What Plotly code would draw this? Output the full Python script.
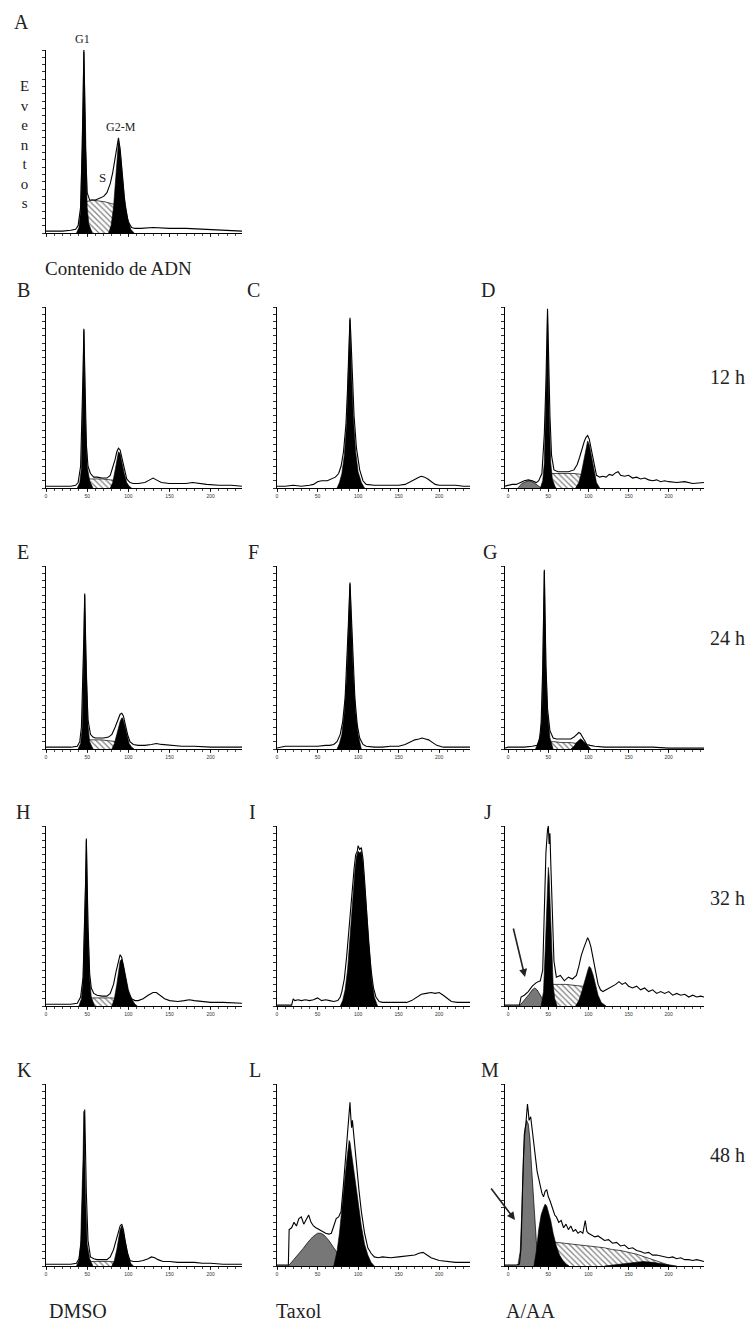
import plotly.graph_objects as go

W, H = 753, 1333

# ---------------- data (channel, % of panel max) ----------------
A_out_x = [0, 10, 20, 30, 36, 39, 42, 44, 45, 46, 47, 48, 50, 53, 56, 60, 65, 70, 74, 78, 81, 84, 86, 88, 90, 93, 96, 100, 104, 108, 115, 130, 150, 170, 190, 210, 225, 238]
A_out_y = [1, 1, 1, 1.5, 2, 4, 14, 46, 74, 100, 74, 46, 22, 18, 18, 18, 19, 20, 22, 27, 33, 42, 48, 52, 46, 30, 15, 6, 3, 2.5, 2.5, 3, 2.5, 2.5, 2, 1.5, 1.5, 1]
A_g1_x = [37, 40, 42, 44, 45, 46, 47, 48, 50, 52, 56]
A_g1_y = [0, 3, 12, 44, 72, 99, 72, 44, 14, 5, 0]
A_s_x = [48, 56, 64, 72, 80, 88]
A_s_y = [17, 18, 17.5, 17, 16, 15]
A_g2_x = [76, 79, 82, 84, 86, 88, 90, 92, 95, 99, 103, 107]
A_g2_y = [0, 4, 14, 28, 42, 50, 45, 34, 20, 8, 2, 0]
A_tri = [46, 88]

B_out_x = [0, 10, 20, 30, 36, 39, 42, 44, 45, 46, 47, 48, 49, 51, 54, 58, 62, 68, 74, 78, 81, 84, 86, 88, 90, 92, 95, 98, 102, 106, 112, 120, 126, 130, 134, 140, 150, 160, 170, 178, 185, 195, 210, 225, 238]
B_out_y = [1, 1, 1, 1, 1.5, 3, 12, 40, 64, 88, 64, 40, 24, 12, 8, 6, 6, 5.5, 5.5, 7, 11, 16, 20, 22, 21, 17, 10, 5, 3, 2.5, 2.5, 3, 4.5, 5.5, 4.5, 3, 2.5, 2.5, 2.5, 3, 2.5, 2, 1.5, 1.5, 1]
B_g1_x = [38, 41, 43, 44, 45, 46, 47, 48, 50, 53, 57]
B_g1_y = [0, 3, 11, 38, 62, 87, 62, 38, 12, 4, 0]
B_s_x = [48, 58, 68, 78, 88]
B_s_y = [5, 5, 5, 4.5, 4]
B_g2_x = [78, 81, 84, 86, 88, 90, 92, 95, 98, 101, 104]
B_g2_y = [0, 3, 10, 16, 20, 19, 14, 8, 3, 1, 0]
B_tri = [46, 88, 129]

C_out_x = [0, 10, 20, 30, 40, 45, 50, 55, 62, 68, 72, 76, 79, 82, 85, 87, 89, 90, 91, 93, 95, 98, 102, 106, 110, 120, 130, 140, 150, 158, 164, 170, 175, 178, 182, 186, 190, 195, 200, 210, 220, 230, 238]
C_out_y = [1, 1, 1.5, 1, 1.5, 2, 3.5, 4, 4, 5, 6, 8, 12, 20, 35, 55, 80, 94, 85, 60, 40, 22, 10, 4, 2, 1.5, 1.5, 1.5, 1.5, 2, 3.5, 5, 6, 6.5, 6, 5, 3.5, 2, 1.5, 1.5, 1.5, 1, 1]
C_g1_x = [74, 77, 80, 83, 86, 88, 90, 92, 94, 97, 100, 104, 108]
C_g1_y = [0, 3, 8, 18, 36, 62, 93, 62, 40, 20, 9, 3, 0]
C_tri = [90, 172]

D_out_x = [-4, 0, 5, 10, 15, 20, 25, 30, 35, 38, 42, 45, 47, 48, 49, 50, 51, 52, 54, 57, 62, 68, 75, 82, 86, 89, 92, 95, 97, 99, 101, 104, 107, 110, 114, 118, 122, 126, 130, 134, 137, 140, 145, 150, 155, 160, 165, 170, 175, 180, 185, 190, 195, 200, 210, 220, 230, 244]
D_out_y = [1, 1.5, 2, 2, 3, 4, 4.5, 4, 3, 4, 8, 30, 58, 80, 99, 80, 58, 40, 18, 10, 9, 9, 9, 10, 13, 17, 22, 26, 28, 29, 27, 20, 12, 7, 6, 6.5, 6, 7.5, 7, 8.5, 9, 7, 6.5, 7, 5.5, 6, 5, 5.5, 4.5, 4, 4.5, 3.5, 4, 3.5, 3, 3.5, 2.5, 3]
D_apo_x = [12, 17, 22, 27, 32, 37, 41]
D_apo_y = [0, 2.5, 3.5, 4, 3, 1.5, 0]
D_g1_x = [40, 43, 45, 47, 48, 49, 50, 51, 53, 55, 59]
D_g1_y = [0, 4, 14, 42, 68, 97, 68, 42, 14, 5, 0]
D_s_x = [52, 62, 72, 82, 92, 100]
D_s_y = [8, 8, 8, 8, 7.5, 7]
D_g2_x = [84, 88, 91, 94, 97, 99, 101, 104, 107, 110, 114]
D_g2_y = [0, 3, 8, 15, 22, 26, 24, 17, 9, 3, 0]
D_tri = [49, 98, 181]

E_out_x = [0, 10, 20, 30, 38, 41, 43, 45, 46, 47, 48, 49, 51, 54, 57, 60, 65, 70, 76, 80, 84, 87, 90, 92, 94, 96, 99, 102, 106, 112, 120, 128, 134, 140, 150, 165, 180, 200, 220, 238]
E_out_y = [1, 1, 1, 1, 1.5, 4, 12, 40, 62, 85, 62, 40, 16, 8, 6.5, 6, 6, 6, 6.5, 8, 12, 16, 19, 19.5, 18, 14, 8, 4, 2.5, 2, 2, 2.5, 3, 2.5, 2, 1.5, 1.5, 1, 1, 1]
E_g1_x = [39, 42, 44, 45, 46, 47, 48, 49, 51, 53, 57]
E_g1_y = [0, 3, 12, 38, 60, 84, 60, 38, 13, 4, 0]
E_s_x = [49, 58, 67, 76, 86]
E_s_y = [5, 5, 5, 4.5, 4]
E_g2_x = [80, 83, 86, 88, 90, 92, 93, 95, 98, 101, 104, 107]
E_g2_y = [0, 3, 8, 12, 15, 17, 17, 14, 8, 3, 1, 0]
E_tri = [47, 92]

F_out_x = [0, 5, 10, 20, 30, 40, 50, 60, 65, 70, 74, 78, 81, 84, 86, 88, 90, 92, 94, 96, 99, 102, 106, 110, 120, 130, 140, 150, 158, 165, 170, 175, 179, 183, 187, 192, 197, 205, 215, 225, 238]
F_out_y = [0.5, 1, 1.5, 1.5, 1.5, 1.5, 1.5, 2, 2, 2.5, 4, 8, 15, 28, 45, 68, 91, 70, 46, 28, 13, 6, 2.5, 1.5, 1, 1, 1.5, 1.5, 2.5, 4, 5, 5.5, 6, 5.5, 5, 3.5, 2, 1, 1, 1, 1]
F_g1_x = [74, 77, 80, 83, 86, 88, 90, 92, 94, 97, 100, 104]
F_g1_y = [0, 3, 8, 20, 40, 62, 90, 65, 42, 20, 8, 0]
F_tri = [90, 173]

G_out_x = [-4, 0, 10, 20, 30, 36, 39, 41, 43, 44, 45, 46, 47, 49, 52, 56, 60, 66, 72, 78, 82, 85, 88, 90, 92, 95, 98, 102, 108, 120, 140, 160, 180, 200, 220, 244]
G_out_y = [0.5, 1, 1, 1, 1.5, 2, 5, 14, 44, 72, 98, 72, 46, 22, 10, 6, 5.5, 5.5, 5.5, 5.5, 6.5, 8, 9, 8.5, 7, 4, 2.5, 2, 1.5, 1, 1, 1, 1, 0.5, 0.5, 0.5]
G_g1_x = [34, 37, 40, 42, 43, 44, 45, 46, 47, 49, 52, 56]
G_g1_y = [0, 3, 8, 18, 42, 70, 97, 70, 44, 20, 6, 0]
G_s_x = [47, 57, 67, 77, 87, 96]
G_s_y = [4, 4, 3.5, 3.5, 3, 2]
G_g2_x = [78, 82, 85, 88, 90, 92, 95, 99, 103]
G_g2_y = [0, 1.5, 3.5, 5, 5.5, 5, 3.5, 1.5, 0]
G_tri = [45]

H_out_x = [0, 10, 20, 30, 38, 42, 45, 47, 48, 49, 50, 51, 53, 55, 58, 62, 68, 74, 78, 82, 85, 88, 90, 92, 94, 97, 100, 104, 108, 112, 118, 124, 130, 134, 138, 144, 150, 160, 168, 174, 180, 190, 200, 215, 238]
H_out_y = [1, 1, 1, 1, 1.5, 5, 16, 45, 68, 93, 68, 45, 18, 10, 7, 6, 5.5, 5.5, 7, 12, 19, 25, 28.5, 27, 22, 14, 7, 4, 3, 3, 4, 6, 7.5, 7.5, 6, 4, 3, 2.5, 3, 3.5, 3, 2.5, 2, 2, 1.5]
H_g1_x = [40, 43, 45, 47, 48, 49, 50, 51, 53, 55, 59]
H_g1_y = [0, 4, 14, 42, 66, 92, 66, 42, 15, 5, 0]
H_s_x = [51, 60, 70, 80, 88]
H_s_y = [4.5, 4.5, 4.5, 4.5, 4]
H_g2_x = [80, 83, 86, 88, 90, 92, 94, 97, 100, 104, 108, 111]
H_g2_y = [0, 4, 12, 20, 25, 26, 23, 16, 9, 4, 1, 0]
H_tri = [49, 92, 134]

I_out_x = [0, 10, 18, 20, 22, 26, 30, 35, 40, 45, 50, 55, 60, 65, 70, 75, 78, 80, 83, 86, 89, 92, 95, 97, 99, 100, 102, 104, 106, 108, 110, 113, 116, 119, 122, 126, 130, 140, 150, 160, 166, 172, 178, 184, 190, 195, 200, 205, 210, 215, 222, 230, 238]
I_out_y = [0.5, 0.5, 0.5, 4, 3, 3.5, 3, 3.5, 3, 3.5, 4.5, 3, 3.5, 3, 2.5, 3, 5, 8, 15, 28, 45, 62, 76, 84, 86, 89, 87, 88, 82, 70, 55, 35, 20, 10, 5, 2.5, 2, 2, 2, 2, 3, 5, 6.5, 7, 7.5, 7, 7.5, 6, 4, 2.5, 2, 2, 2]
I_g1_x = [78, 81, 84, 87, 90, 93, 96, 98, 100, 102, 104, 106, 108, 111, 114, 117, 120, 124]
I_g1_y = [0, 3, 9, 20, 38, 58, 75, 83, 86, 85, 86, 80, 68, 48, 28, 14, 5, 0]
I_tri = [50, 98, 184, 197]

J_out_x = [-4, 0, 5, 10, 14, 16, 20, 25, 30, 35, 40, 43, 45, 47, 49, 50, 51, 52, 53, 55, 57, 60, 65, 70, 75, 80, 85, 88, 91, 94, 97, 99, 101, 103, 106, 109, 112, 115, 118, 122, 126, 130, 134, 138, 142, 146, 150, 155, 160, 165, 170, 175, 180, 185, 190, 195, 200, 205, 210, 215, 220, 225, 230, 235, 240, 244]
J_out_y = [0.5, 0.5, 0.5, 0.5, 0.5, 5, 6, 8, 11, 13, 14, 20, 50, 85, 98, 100, 90, 96, 80, 45, 25, 16, 17, 14, 16, 15, 17, 22, 28, 32, 35, 38, 36, 33, 26, 18, 12, 9, 8, 9, 10, 11, 12, 13.5, 12, 13, 11, 10, 11, 9, 10, 8, 9, 7, 8, 7, 8, 6, 7, 6, 6.5, 5, 6, 5, 5.5, 5]
J_apo_x = [14, 18, 22, 26, 30, 33, 36, 40, 44, 48]
J_apo_y = [0, 2, 4, 6.5, 9, 10, 9, 6, 3, 0]
J_g1_x = [41, 44, 46, 48, 49, 50, 51, 52, 54, 56, 58, 61]
J_g1_y = [0, 8, 30, 60, 72, 77, 72, 60, 30, 12, 4, 0]
J_s_x = [52, 62, 72, 82, 92, 100]
J_s_y = [12, 12, 12, 11.5, 11, 10]
J_g2_x = [84, 88, 91, 94, 97, 100, 101, 103, 106, 109, 112, 116, 122]
J_g2_y = [0, 3, 7, 12, 17, 21, 22, 21, 17, 11, 6, 2, 0]
J_tri = [50, 101, 144, 182]

K_out_x = [0, 10, 20, 30, 37, 40, 43, 45, 46, 47, 48, 49, 51, 54, 58, 62, 68, 74, 78, 82, 85, 88, 90, 92, 94, 96, 99, 102, 106, 112, 118, 124, 128, 132, 136, 142, 150, 160, 170, 180, 190, 200, 215, 238]
K_out_y = [1, 1, 1, 1, 1.5, 4, 14, 42, 62, 86, 62, 40, 14, 5, 4, 3.5, 3.5, 3.5, 5, 9, 14, 19, 22, 23, 20, 14, 7, 3, 2.5, 2.5, 3, 4, 5, 4.5, 3.5, 2.5, 2.5, 2, 2, 2, 1.5, 1.5, 1, 1]
K_g1_x = [37, 40, 42, 44, 45, 46, 47, 48, 50, 53, 57]
K_g1_y = [0, 3, 12, 38, 60, 85, 60, 38, 12, 4, 0]
K_s_x = [48, 58, 68, 78, 88]
K_s_y = [2.5, 2.5, 2.5, 2.5, 2]
K_g2_x = [80, 83, 86, 88, 90, 92, 94, 97, 100, 103, 106]
K_g2_y = [0, 3, 9, 15, 20, 22, 19, 12, 5, 1.5, 0]
K_tri = [46, 90, 130]

L_out_x = [0, 10, 14, 15, 18, 21, 24, 27, 30, 33, 36, 39, 42, 45, 48, 52, 56, 60, 64, 67, 70, 73, 76, 79, 82, 85, 87, 89, 90, 91, 92, 93, 95, 98, 101, 104, 108, 112, 116, 120, 125, 130, 140, 150, 160, 170, 175, 180, 185, 190, 200, 210, 220, 230, 238]
L_out_y = [0.5, 0.5, 0.5, 20, 21, 24, 22, 26, 27, 23, 26, 28, 24, 22, 21, 20, 19, 18, 17.5, 18, 22, 26, 27, 30, 45, 62, 75, 86, 90, 82, 76, 80, 70, 55, 42, 30, 18, 10, 7, 5, 4.5, 5, 4.5, 5, 5.5, 6, 7, 7.5, 6, 4.5, 3, 2.5, 2, 2, 2]
L_apo_x = [14, 20, 26, 32, 38, 44, 50, 54, 58, 64, 70, 76, 82, 88]
L_apo_y = [0, 3, 6, 9.5, 13, 16, 18, 18, 17, 14, 10, 6, 2.5, 0]
L_g1_x = [70, 74, 77, 80, 83, 86, 88, 89, 90, 92, 95, 98, 101, 104, 108, 112, 116, 120]
L_g1_y = [0, 8, 18, 30, 45, 58, 66, 69, 68, 62, 52, 42, 32, 22, 12, 6, 2, 0]
L_tri = [90]

M_out_x = [-4, 0, 5, 10, 14, 16, 18, 20, 22, 23, 24, 25, 26, 28, 30, 32, 34, 36, 38, 40, 42, 44, 46, 48, 50, 52, 54, 56, 58, 60, 63, 66, 69, 72, 75, 78, 81, 84, 87, 90, 93, 96, 98, 100, 104, 108, 112, 116, 120, 125, 130, 135, 140, 145, 150, 155, 160, 165, 170, 175, 180, 185, 190, 195, 200, 205, 210, 215, 220, 225, 230, 235, 240, 244]
M_out_y = [0.5, 0.5, 0.5, 0.5, 1, 10, 45, 72, 78, 84, 89, 85, 80, 82, 75, 68, 58, 52, 48, 44, 40, 38, 41, 42, 38, 36, 33, 30, 28, 27, 24, 25, 21, 23, 20, 22, 19, 20, 18, 19, 18, 25, 19, 18, 17, 16, 16.5, 15, 14, 14.5, 12.5, 13, 11, 11.5, 9.5, 10, 8.5, 8, 7, 7.5, 6, 6, 5.5, 5, 4.5, 5, 4, 4.5, 3.5, 3.5, 3, 3.5, 3, 2.5]
M_apo_x = [12, 15, 17, 19, 21, 23, 25, 27, 29, 31, 33, 35, 37, 40]
M_apo_y = [0, 8, 30, 60, 75, 80, 78, 70, 55, 40, 25, 14, 6, 0]
M_g1_x = [32, 35, 38, 41, 44, 46, 48, 50, 53, 56, 60, 64, 68, 72, 76]
M_g1_y = [0, 8, 20, 28, 32, 34, 33, 30, 25, 18, 11, 6, 3, 1, 0]
M_s_x = [50, 60, 70, 80, 90, 100, 110, 120, 130, 140, 150, 160, 170, 180, 190, 200]
M_s_y = [13, 13, 12.5, 12, 11.5, 11, 10.5, 10, 9, 8.5, 7.5, 6.5, 5, 3.5, 2, 0.5]
M_g2_x = [120, 140, 155, 168, 180, 195, 210]
M_g2_y = [0, 1, 2, 2.5, 2, 1, 0]
M_tri = [23, 96, 210]

tick_vals = [0, 50, 100, 150, 200]
tick_text = ["0", "50", "100", "150", "200"]
panel_letters = ["A", "B", "C", "D", "E", "F", "G", "H", "I", "J", "K", "L", "M"]
time_labels = ["12 h", "24 h", "32 h", "48 h"]
treatments = ["DMSO", "Taxol", "A/AA"]
phase_labels = ["G1", "S", "G2-M"]
y_title = "Eventos"
x_title = "Contenido de ADN"

# ---------------- layout (pixel boxes) ----------------
COL_X = [(46, 242), (277, 470), (505, 704)]
COL_R = [[0, 238], [0, 238], [-4, 244]]
ROW_Y = [(307, 488), (566, 749), (826, 1006), (1084, 1266)]

panels = [
    ("A", (46, 242, 50, 233), COL_R[0], (A_out_x, A_out_y), (A_g1_x, A_g1_y), (A_g2_x, A_g2_y), (A_s_x, A_s_y), None, A_tri),
    ("B", COL_X[0] + ROW_Y[0], COL_R[0], (B_out_x, B_out_y), (B_g1_x, B_g1_y), (B_g2_x, B_g2_y), (B_s_x, B_s_y), None, B_tri),
    ("C", COL_X[1] + ROW_Y[0], COL_R[1], (C_out_x, C_out_y), (C_g1_x, C_g1_y), None, None, None, C_tri),
    ("D", COL_X[2] + ROW_Y[0], COL_R[2], (D_out_x, D_out_y), (D_g1_x, D_g1_y), (D_g2_x, D_g2_y), (D_s_x, D_s_y), (D_apo_x, D_apo_y), D_tri),
    ("E", COL_X[0] + ROW_Y[1], COL_R[0], (E_out_x, E_out_y), (E_g1_x, E_g1_y), (E_g2_x, E_g2_y), (E_s_x, E_s_y), None, E_tri),
    ("F", COL_X[1] + ROW_Y[1], COL_R[1], (F_out_x, F_out_y), (F_g1_x, F_g1_y), None, None, None, F_tri),
    ("G", COL_X[2] + ROW_Y[1], COL_R[2], (G_out_x, G_out_y), (G_g1_x, G_g1_y), (G_g2_x, G_g2_y), (G_s_x, G_s_y), None, G_tri),
    ("H", COL_X[0] + ROW_Y[2], COL_R[0], (H_out_x, H_out_y), (H_g1_x, H_g1_y), (H_g2_x, H_g2_y), (H_s_x, H_s_y), None, H_tri),
    ("I", COL_X[1] + ROW_Y[2], COL_R[1], (I_out_x, I_out_y), (I_g1_x, I_g1_y), None, None, None, I_tri),
    ("J", COL_X[2] + ROW_Y[2], COL_R[2], (J_out_x, J_out_y), (J_g1_x, J_g1_y), (J_g2_x, J_g2_y), (J_s_x, J_s_y), (J_apo_x, J_apo_y), J_tri),
    ("K", COL_X[0] + ROW_Y[3], COL_R[0], (K_out_x, K_out_y), (K_g1_x, K_g1_y), (K_g2_x, K_g2_y), (K_s_x, K_s_y), None, K_tri),
    ("L", COL_X[1] + ROW_Y[3], COL_R[1], (L_out_x, L_out_y), (L_g1_x, L_g1_y), None, None, (L_apo_x, L_apo_y), L_tri),
    ("M", COL_X[2] + ROW_Y[3], COL_R[2], (M_out_x, M_out_y), (M_g1_x, M_g1_y), (M_g2_x, M_g2_y), (M_s_x, M_s_y), (M_apo_x, M_apo_y), M_tri),
]

SERIF = "Liberation Serif, Times New Roman, serif"
fig = go.Figure()
layout = {}

for i, (name, box, xr, out, g1, g2, s, apo, tri) in enumerate(panels, start=1):
    for nm, pair in (("out", out), ("g1", g1), ("g2", g2), ("s", s), ("apo", apo)):
        if pair is not None and len(pair[0]) != len(pair[1]):
            raise ValueError(f"{name} {nm}: {len(pair[0])} x vs {len(pair[1])} y")
    xa = "x" if i == 1 else f"x{i}"
    ya = "y" if i == 1 else f"y{i}"
    common = dict(xaxis=xa, yaxis=ya, showlegend=False, hoverinfo="skip")
    if s is not None:
        fig.add_trace(go.Scatter(x=s[0], y=s[1], mode="lines", fill="tozeroy",
                                 line=dict(color="black", width=0.7),
                                 fillcolor="white",
                                 fillpattern=dict(shape="\\", size=4, solidity=0.3,
                                                  fgcolor="black", bgcolor="white"),
                                 **common))
    if apo is not None:
        fig.add_trace(go.Scatter(x=apo[0], y=apo[1], mode="lines", fill="tozeroy",
                                 line=dict(color="black", width=0.7),
                                 fillcolor="#777777", **common))
    for g in (g1, g2):
        if g is not None:
            fig.add_trace(go.Scatter(x=g[0], y=g[1], mode="lines", fill="tozeroy",
                                     line=dict(color="black", width=0.6),
                                     fillcolor="black", **common))
    fig.add_trace(go.Scatter(x=out[0], y=out[1], mode="lines",
                             line=dict(color="black", width=1.1), **common))
    fig.add_trace(go.Scatter(x=tri, y=[-2.8] * len(tri), mode="markers", cliponaxis=False,
                             marker=dict(symbol="triangle-up", size=6, color="black"),
                             **common))
    x0, x1, yt, yb = box
    layout["xaxis" if i == 1 else f"xaxis{i}"] = dict(
        domain=[x0 / W, x1 / W], range=xr, anchor=ya,
        showline=True, linecolor="black", linewidth=1,
        showgrid=False, zeroline=False, fixedrange=True,
        ticks="outside", ticklen=3, tickwidth=0.8, tickcolor="black",
        tickmode="array", tickvals=tick_vals, ticktext=tick_text,
        showticklabels=(name != "A"),
        tickfont=dict(size=5, color="#333333", family="Arial"),
        minor=dict(ticks="outside", ticklen=2, tickwidth=0.7, tickcolor="black",
                   dtick=10, tick0=0, showgrid=False),
    )
    layout["yaxis" if i == 1 else f"yaxis{i}"] = dict(
        domain=[1 - yb / H, 1 - yt / H], range=[0, 100], anchor=xa,
        showline=True, linecolor="black", linewidth=1,
        showgrid=False, zeroline=False, fixedrange=True,
        ticks="outside", ticklen=3, tickwidth=0.8, tickcolor="black",
        tick0=0, dtick=4, showticklabels=False,
    )

annotations = []


def text_px(txt, x, y, size, xanchor="center", yanchor="middle"):
    annotations.append(dict(text=txt, x=x / W, y=1 - y / H, xref="paper", yref="paper",
                            showarrow=False, xanchor=xanchor, yanchor=yanchor,
                            font=dict(family=SERIF, size=size, color="#222222")))


letter_pos = [(21, 22), (23, 290), (254, 290), (488, 290), (23, 552), (254, 552), (490, 552),
              (23, 812), (253, 812), (488, 812), (24, 1070), (255, 1070), (490, 1070)]
for lt, (lx, ly) in zip(panel_letters, letter_pos):
    text_px(lt, lx, ly, 20)

for lab, ty in zip(time_labels, [377, 638, 898, 1155]):
    text_px(lab, 727, ty, 20)

for lab, tx in zip(treatments, [47, 274, 504]):
    text_px(lab, tx, 1311, 20, xanchor="left")

text_px(phase_labels[0], 82, 39, 12)
text_px(phase_labels[1], 103, 178, 13)
text_px(phase_labels[2], 121, 127, 12)

# vertical stacked axis title
text_px("<br>".join(list(y_title)), 24, 144, 15)

text_px(x_title, 43, 268, 19, xanchor="left")


def arrow_px(x_head, y_head, x_tail, y_tail):
    annotations.append(dict(text="", x=x_head / W, y=1 - y_head / H, xref="paper", yref="paper",
                            ax=x_tail - x_head, ay=y_tail - y_head, axref="pixel", ayref="pixel",
                            showarrow=True, arrowhead=2, arrowsize=1, arrowwidth=1.6,
                            arrowcolor="#222222"))


arrow_px(525, 977, 513, 927)
arrow_px(515, 1220, 490, 1187)

fig.update_layout(width=W, height=H, margin=dict(l=0, r=0, t=0, b=0),
                  paper_bgcolor="white", plot_bgcolor="white",
                  showlegend=False, annotations=annotations, **layout)

fig.write_html("out.html",
               config={"displayModeBar": False, "staticPlot": True},
               post_script="document.body.style.margin='0';"
                           "document.documentElement.style.overflow='hidden';")
